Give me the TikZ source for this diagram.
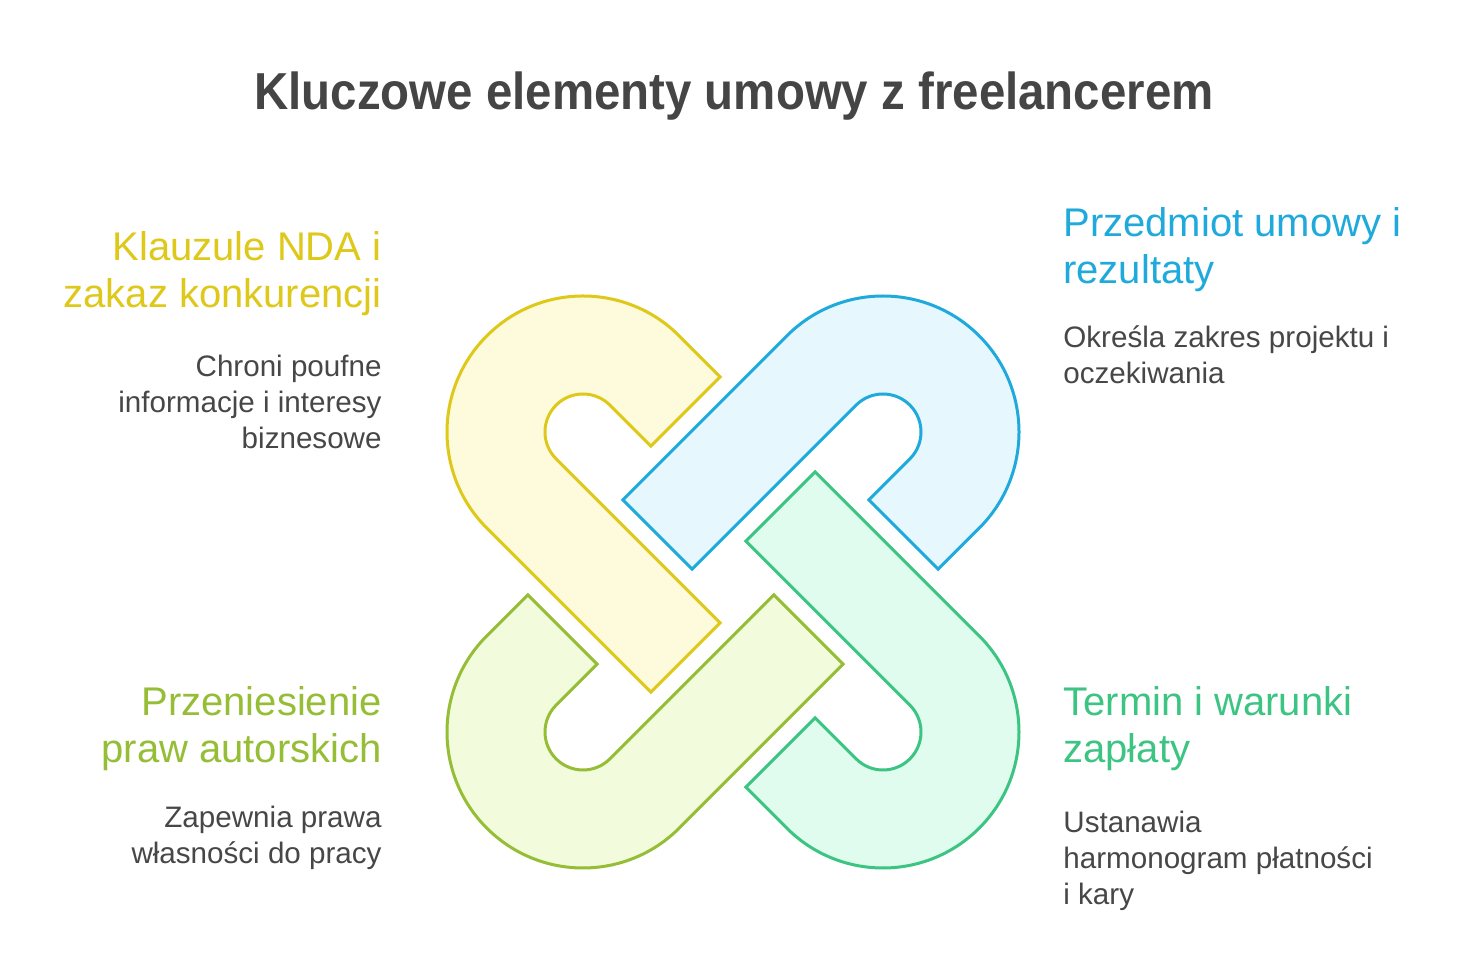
\documentclass[tikz,border=0pt]{standalone}
\usepackage{fontspec}
\setmainfont{Liberation Sans}
\newfontfamily\titlefont[FakeStretch=0.912]{Liberation Sans}
\definecolor{ystroke}{HTML}{DEC81A}
\definecolor{yfill}{HTML}{FEFADC}
\definecolor{bstroke}{HTML}{1FAADB}
\definecolor{bfill}{HTML}{E6F8FE}
\definecolor{gstroke}{HTML}{3CC482}
\definecolor{gfill}{HTML}{E0FCEE}
\definecolor{ostroke}{HTML}{95BD35}
\definecolor{ofill}{HTML}{F2FCDC}
\definecolor{txt}{HTML}{474747}
\definecolor{ttl}{HTML}{454545}
\tikzset{
  hook/.pic={\path[pic actions] (96.17,96.17) arc[start angle=45,end angle=225,radius=136]
     -- ++(164,-164) -- ++(69.3,69.3) -- (-26.87,-26.87)
     arc[start angle=225,end angle=45,radius=38]
     -- ++(41,-41) -- ++(69.3,69.3) -- cycle;},
  hookline/.style={line width=1.5pt, line join=miter},
  headtxt/.style={inner sep=0pt, font=\fontsize{20pt}{23.75pt}\selectfont},
  desctxt/.style={inner sep=0pt, text=txt, font=\fontsize{14.8pt}{18pt}\selectfont},
}
\begin{document}
\begin{tikzpicture}[x=0.5pt,y=0.5pt]
\useasboundingbox[fill=white] (0,0) rectangle (1468,980);
\node[inner sep=0pt, anchor=base, text=ttl, font=\titlefont\fontsize{26pt}{30pt}\selectfont\bfseries] (title) at (734,870) {Kluczowe elementy umowy z freelancerem};

\pic[hookline, draw=ystroke, fill=yfill] (yhook) at (583,548) {hook};
\pic[hookline, draw=bstroke, fill=bfill, rotate=-90] (bhook) at (883,548) {hook};
\pic[hookline, draw=gstroke, fill=gfill, rotate=180] (ghook) at (883,248) {hook};
\pic[hookline, draw=ostroke, fill=ofill, rotate=90] (ohook) at (583,248) {hook};

\node[headtxt, text=ystroke, anchor=base east, align=right] (yhead) at (382,672) {Klauzule NDA i\\zakaz konkurencji};
\node[desctxt, anchor=base east, align=right] (ydesc) at (382,531) {Chroni poufne\\informacje i interesy\\biznesowe};

\node[headtxt, text=bstroke, anchor=base west, align=left] (bhead) at (1063,696) {Przedmiot umowy i\\rezultaty};
\node[desctxt, anchor=base west, align=left] (bdesc) at (1063,596) {Określa zakres projektu i\\oczekiwania};

\node[headtxt, text=ostroke, anchor=base east, align=right] (ohead) at (382,217) {Przeniesienie\\praw autorskich};
\node[desctxt, anchor=base east, align=right] (odesc) at (382,116) {Zapewnia prawa\\własności do pracy};

\node[headtxt, text=gstroke, anchor=base west, align=left] (ghead) at (1063,217) {Termin i warunki\\zapłaty};
\node[desctxt, anchor=base west, align=left] (gdesc) at (1063,75) {Ustanawia\\harmonogram płatności\\i kary};
\end{tikzpicture}
\end{document}
